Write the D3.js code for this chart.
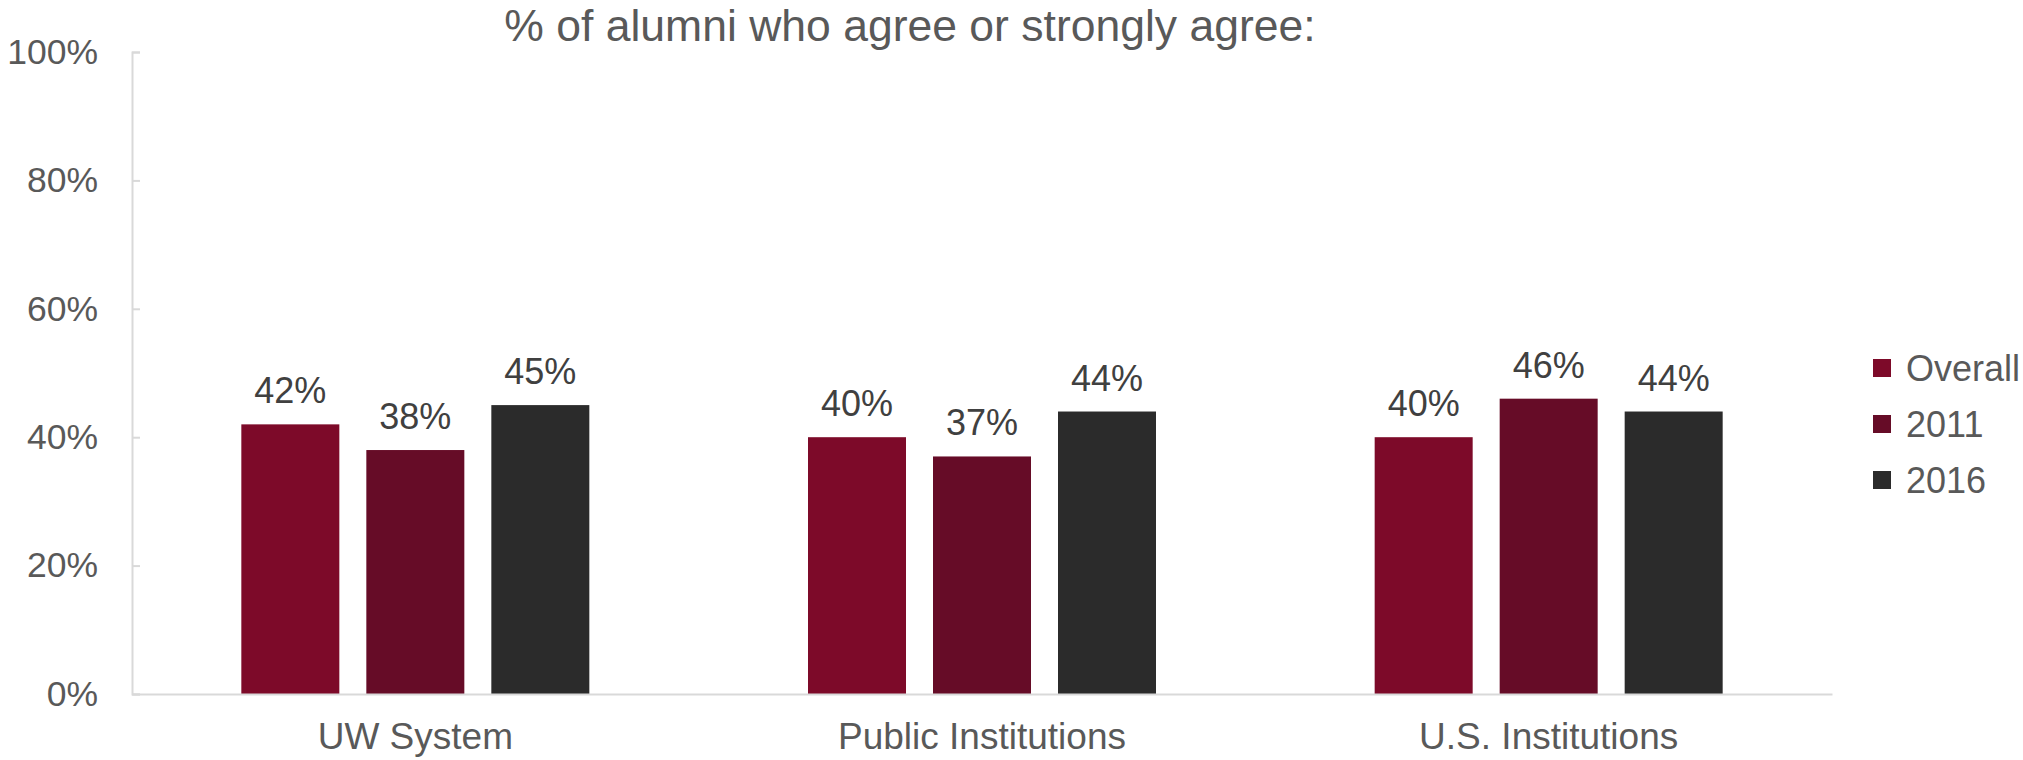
<!DOCTYPE html>
<html lang="en">

<head>
  <meta charset="utf-8">
  <title>% of alumni who agree or strongly agree</title>
  <script src="https://cdn.jsdelivr.net/npm/d3@7"></script>
  <style>
    body { margin: 0; background: #fff; }
    text { font-family: "Liberation Sans", Arial, sans-serif; fill: #595959; }
  </style>
</head>

<body>
  <svg width="2023" height="760"></svg>
  <script>
    const categories = ["UW System", "Public Institutions", "U.S. Institutions"];
    const seriesNames = ["Overall", "2011", "2016"];
    const overall = [42, 40, 40];
    const y2011 = [38, 37, 46];
    const y2016 = [45, 44, 44];
    const yTicks = [0, 20, 40, 60, 80, 100];
    const colors = ["#7d0a29", "#660c27", "#2b2b2b"];

    const seriesValues = [overall, y2011, y2016];
    const rows = [];
    categories.forEach((c, i) => {
      seriesNames.forEach((s, j) => {
        rows.push({ cat: c, series: s, value: seriesValues[j][i] });
      });
    });

    const svg = d3.select("svg");
    const plotLeft = 132, plotRight = 1832, plotTop = 52, plotBottom = 694;

    const x = d3.scaleBand().domain(categories).range([plotLeft, plotRight]);
    const x1 = d3.scaleBand().domain(seriesNames)
      .range([x.bandwidth() / 2 - 174, x.bandwidth() / 2 + 174])
      .paddingInner(0.216);
    const y = d3.scaleLinear().domain([0, 100]).range([plotBottom, plotTop]);

    // title
    svg.append("text")
      .attr("x", 910)
      .attr("y", 41)
      .attr("text-anchor", "middle")
      .style("font-size", "44.5px")
      .text("% of alumni who agree or strongly agree:");

    // y axis
    const yAxis = svg.append("g")
      .attr("transform", `translate(${plotLeft},0)`)
      .call(d3.axisLeft(y)
        .tickValues(yTicks)
        .tickSize(-8)
        .tickPadding(34)
        .tickFormat(d => d + "%"));
    yAxis.select(".domain").attr("stroke", "#d9d9d9").attr("stroke-width", 2);
    yAxis.selectAll(".tick line").attr("stroke", "#d9d9d9").attr("stroke-width", 2);
    yAxis.selectAll(".tick text").style("font-size", "35.5px").attr("fill", "#595959");

    // bars
    svg.append("g")
      .selectAll("rect")
      .data(rows)
      .enter()
      .append("rect")
      .attr("x", d => x(d.cat) + x1(d.series))
      .attr("y", d => y(d.value))
      .attr("width", x1.bandwidth())
      .attr("height", d => y(0) - y(d.value))
      .attr("fill", d => colors[seriesNames.indexOf(d.series)]);

    // value labels
    svg.append("g")
      .selectAll("text")
      .data(rows)
      .enter()
      .append("text")
      .attr("x", d => x(d.cat) + x1(d.series) + x1.bandwidth() / 2)
      .attr("y", d => y(d.value) - 21)
      .attr("text-anchor", "middle")
      .style("font-size", "36px")
      .style("fill", "#404040")
      .text(d => d.value + "%");

    // x axis
    const xAxis = svg.append("g")
      .attr("transform", `translate(0,${plotBottom})`)
      .call(d3.axisBottom(x).tickSize(0).tickPadding(29));
    xAxis.select(".domain").attr("stroke", "#d9d9d9").attr("stroke-width", 2);
    xAxis.selectAll(".tick text").style("font-size", "37px").attr("fill", "#595959")
      .attr("dy", "0.71em");

    // legend
    const legend = svg.append("g")
      .selectAll("g")
      .data(seriesNames)
      .enter()
      .append("g")
      .attr("transform", (d, i) => `translate(1873,${368 + i * 56})`);
    legend.append("rect")
      .attr("x", 0)
      .attr("y", -9)
      .attr("width", 18)
      .attr("height", 18)
      .attr("fill", (d, i) => colors[i]);
    legend.append("text")
      .attr("x", 33)
      .attr("y", 0)
      .attr("dy", "0.35em")
      .style("font-size", "36px")
      .text(d => d);
  </script>
</body>

</html>
